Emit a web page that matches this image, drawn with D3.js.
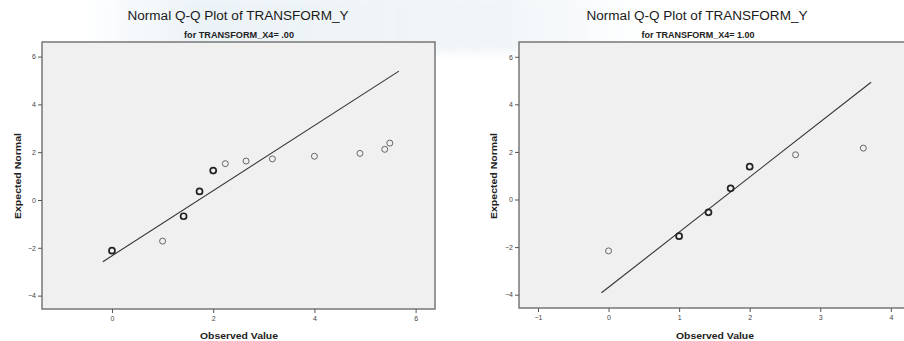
<!DOCTYPE html>
<html>
<head>
<meta charset="utf-8">
<script src="https://cdn.jsdelivr.net/npm/d3@7"></script>
<style>
  html, body { margin: 0; padding: 0; background: #fff; }
  svg { display: block; font-family: "Liberation Sans", Arial, sans-serif; }
  .tick line { stroke: #555; }
  .domain { display: none; }
</style>
</head>
<body>
<svg id="chart" width="904" height="341"></svg>
<script>
// Panel 1: TRANSFORM_X4 = .00
const obsA = [0, 1.0, 1.415, 1.73, 2.0, 2.24, 2.65, 3.17, 4.0, 4.9, 5.39, 5.49];
const expA = [-2.12, -1.72, -0.68, 0.36, 1.23, 1.52, 1.63, 1.72, 1.83, 1.95, 2.12, 2.38];
const boldA = [true, false, true, true, true, false, false, false, false, false, false, false];
const lineXA = [-0.18, 5.67];
const lineYA = [-2.58, 5.39];

// Panel 2: TRANSFORM_X4 = 1.00
const obsB = [0, 1.0, 1.416, 1.73, 2.0, 2.65, 3.61];
const expB = [-2.16, -1.54, -0.54, 0.47, 1.38, 1.88, 2.16];
const boldB = [false, true, true, true, true, false, false];
const lineXB = [-0.1, 3.72];
const lineYB = [-3.92, 4.93];

const xTicksA = [0, 2, 4, 6];
const xTicksB = [-1, 0, 1, 2, 3, 4];
const yTicks = [-4, -2, 0, 2, 4, 6];
const titles = ['Normal Q-Q Plot of TRANSFORM_Y', 'Normal Q-Q Plot of TRANSFORM_Y'];
const subtitles = ['for TRANSFORM_X4= .00', 'for TRANSFORM_X4= 1.00'];

const svg = d3.select('#chart');

// faint watermark band behind the titles
const defs = svg.append('defs');
const grad = defs.append('linearGradient').attr('id', 'wm').attr('x1', 0).attr('x2', 1);
grad.append('stop').attr('offset', '0%').attr('stop-color', '#dce9f1').attr('stop-opacity', 0);
grad.append('stop').attr('offset', '20%').attr('stop-color', '#dce9f1').attr('stop-opacity', 0.55);
grad.append('stop').attr('offset', '75%').attr('stop-color', '#e2ecf1').attr('stop-opacity', 0.5);
grad.append('stop').attr('offset', '100%').attr('stop-color', '#e2ecf1').attr('stop-opacity', 0);
defs.append('filter').attr('id', 'blur').append('feGaussianBlur').attr('stdDeviation', 5);
svg.append('rect').attr('x', 80).attr('y', -5).attr('width', 570).attr('height', 58)
  .attr('fill', 'url(#wm)').attr('filter', 'url(#blur)');

const panels = [
  { left: 42, right: 435, top: 42, bottom: 309, xDom: [-1.383, 6.383], yDom: [-4.56, 6.61],
    obs: obsA, exp: expA, bold: boldA, lx: lineXA, ly: lineYA, xTicks: xTicksA,
    titleX: 238, ylabX: 18, xlabX: 239 },
  { left: 519, right: 912, top: 42, bottom: 308, xDom: [-1.269, 4.30], yDom: [-4.56, 6.62],
    obs: obsB, exp: expB, bold: boldB, lx: lineXB, ly: lineYB, xTicks: xTicksB,
    titleX: 697, ylabX: 494, xlabX: 715 }
];

panels.forEach((p, i) => {
  const x = d3.scaleLinear().domain(p.xDom).range([p.left, p.right]);
  const y = d3.scaleLinear().domain(p.yDom).range([p.bottom, p.top]);
  const g = svg.append('g');

  g.append('rect')
    .attr('x', p.left).attr('y', p.top)
    .attr('width', p.right - p.left).attr('height', p.bottom - p.top)
    .attr('fill', '#f0f0f0').attr('stroke', '#6e6e6e').attr('stroke-width', 1.4);

  const yAxis = g.append('g')
    .attr('transform', `translate(${p.left},0)`)
    .call(d3.axisLeft(y).tickValues(yTicks).tickSize(4).tickPadding(2).tickFormat(d3.format('d')));

  const xAxis = g.append('g')
    .attr('transform', `translate(0,${p.bottom})`)
    .call(d3.axisBottom(x).tickValues(p.xTicks).tickSize(4).tickPadding(3).tickFormat(d3.format('d')));

  [yAxis, xAxis].forEach(a => a.selectAll('.tick text')
    .attr('fill', '#444').attr('font-size', 7).attr('font-family', '"Liberation Sans", Arial, sans-serif'));

  g.append('line')
    .attr('x1', x(p.lx[0])).attr('y1', y(p.ly[0]))
    .attr('x2', x(p.lx[1])).attr('y2', y(p.ly[1]))
    .attr('stroke', '#333').attr('stroke-width', 1.1);

  g.selectAll('circle.pt')
    .data(p.obs.map((v, k) => ({ o: v, e: p.exp[k], b: p.bold[k] })))
    .enter()
    .append('circle')
    .attr('class', 'pt')
    .attr('cx', d => x(d.o)).attr('cy', d => y(d.e))
    .attr('r', 3)
    .attr('fill', 'none')
    .attr('stroke', d => d.b ? '#222' : '#666')
    .attr('stroke-width', d => d.b ? 1.7 : 1);

  g.append('text')
    .attr('x', p.titleX).attr('y', 20)
    .attr('text-anchor', 'middle')
    .attr('font-size', 12).attr('fill', '#1a1a1a')
    .attr('textLength', 221).attr('lengthAdjust', 'spacingAndGlyphs')
    .text(titles[i]);

  g.append('text')
    .attr('x', p.titleX + 1).attr('y', 38)
    .attr('text-anchor', 'middle')
    .attr('font-size', 8.5).attr('font-weight', 'bold').attr('fill', '#222')
    .attr('textLength', i === 0 ? 110 : 113).attr('lengthAdjust', 'spacingAndGlyphs')
    .text(subtitles[i]);

  g.append('text')
    .attr('transform', `translate(${p.ylabX + 3},176) rotate(-90)`)
    .attr('text-anchor', 'middle')
    .attr('font-size', 9.5).attr('font-weight', 'bold').attr('fill', '#222')
    .attr('textLength', 86).attr('lengthAdjust', 'spacingAndGlyphs')
    .text('Expected Normal');

  g.append('text')
    .attr('x', p.xlabX).attr('y', 339)
    .attr('text-anchor', 'middle')
    .attr('font-size', 9.5).attr('font-weight', 'bold').attr('fill', '#222')
    .attr('textLength', 78).attr('lengthAdjust', 'spacingAndGlyphs')
    .text('Observed Value');
});
</script>
</body>
</html>
